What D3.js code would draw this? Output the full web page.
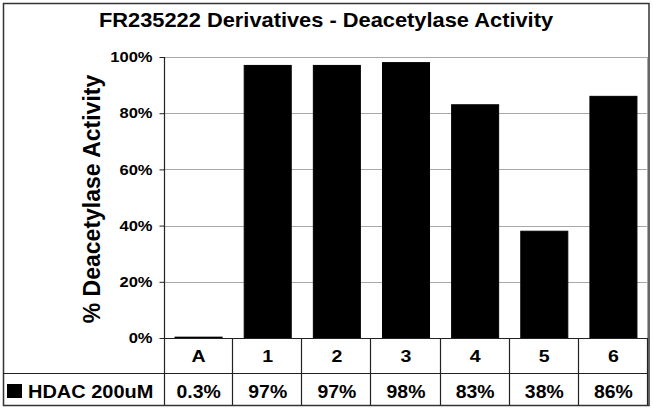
<!DOCTYPE html>
<html>
<head>
<meta charset="utf-8">
<script src="https://d3js.org/d3.v7.min.js"></script>
<style>
  body { margin: 0; background: #fff; }
  svg text { font-family: "Liberation Sans", Arial, sans-serif; font-weight: bold; fill: #000; }
</style>
</head>
<body>
<svg width="653" height="410"></svg>
<script>
// data
const categories = ["A", "1", "2", "3", "4", "5", "6"];
const values = [0.3, 97, 97, 98, 83, 38, 86];
const valueLabels = ["0.3%", "97%", "97%", "98%", "83%", "38%", "86%"];
const yTicks = [0, 20, 40, 60, 80, 100];
const seriesName = "HDAC 200uM";
const title = "FR235222 Derivatives - Deacetylase Activity";
const yTitle = "% Deacetylase Activity";

const svg = d3.select("svg");
const plotL = 164, plotR = 648, plotT = 57, plotB = 338;
const row1 = 373, row2 = 405;

const y = d3.scaleLinear().domain([0, 100]).range([plotB, plotT]);
const xCol = d3.scaleBand().domain(categories).range([plotL, plotR]).padding(0);
const x = d3.scaleBand().domain(categories).range([plotL, plotR]).paddingInner(0.32).paddingOuter(0.16);

// outer frame
svg.append("rect")
  .attr("x", 3.5).attr("y", 3.5).attr("width", 645.5).attr("height", 402)
  .attr("fill", "#fff").attr("stroke", "#333").attr("stroke-width", 1.5);

// title
svg.append("text")
  .attr("transform", "translate(326,27) scale(1.12,1)")
  .attr("text-anchor", "middle")
  .attr("font-size", "19.5px")
  .text(title);

// gridlines
svg.append("g").selectAll("line")
  .data(yTicks.filter(d => d > 0))
  .enter().append("line")
  .attr("x1", plotL).attr("x2", plotR)
  .attr("y1", d => Math.round(y(d)) + 0.5).attr("y2", d => Math.round(y(d)) + 0.5)
  .attr("stroke", "#a8a8a8").attr("stroke-width", 1);

// plot right border
svg.append("line")
  .attr("x1", plotR - 0.5).attr("x2", plotR - 0.5).attr("y1", plotT).attr("y2", plotB)
  .attr("stroke", "#a8a8a8");

// bars
svg.append("g").selectAll("rect")
  .data(values)
  .enter().append("rect")
  .attr("x", (d, i) => x(categories[i]))
  .attr("width", x.bandwidth())
  .attr("y", d => y(d))
  .attr("height", d => plotB - y(d))
  .attr("fill", "#000").attr("stroke", "#000").attr("stroke-width", 1);

// y axis
const yAxis = svg.append("g")
  .attr("transform", `translate(${plotL + 0.5},0)`)
  .call(d3.axisLeft(y).tickValues(yTicks).tickSize(5).tickPadding(5.5).tickFormat(d => d + "%"));
yAxis.select(".domain").remove();
yAxis.selectAll(".tick line").attr("stroke", "#222");
yAxis.selectAll(".tick text")
  .attr("font-size", "14.5px")
  .attr("font-family", null)
  .attr("transform", "scale(1.14,1)");

// y axis title
svg.append("text")
  .attr("transform", "translate(100,199) rotate(-90)")
  .attr("text-anchor", "middle")
  .attr("font-size", "23px")
  .text(yTitle);

// table lines
const lines = svg.append("g").attr("stroke", "#222").attr("stroke-width", 1.2);
lines.append("line").attr("x1", plotL).attr("x2", plotR).attr("y1", plotB + 0.5).attr("y2", plotB + 0.5);
lines.append("line").attr("x1", 3).attr("x2", plotR).attr("y1", row1 + 0.5).attr("y2", row1 + 0.5);
lines.append("line").attr("x1", plotL + 0.5).attr("x2", plotL + 0.5).attr("y1", plotT).attr("y2", row2);
lines.selectAll(".col")
  .data(categories)
  .enter().append("line")
  .attr("x1", d => Math.round(xCol(d) + xCol.bandwidth()) - 0.5)
  .attr("x2", d => Math.round(xCol(d) + xCol.bandwidth()) - 0.5)
  .attr("y1", plotB).attr("y2", row2);

// category row
svg.append("g").selectAll("text")
  .data(categories)
  .enter().append("text")
  .attr("transform", d => `translate(${xCol(d) + xCol.bandwidth() / 2},362) scale(1.15,1)`)
  .attr("text-anchor", "middle")
  .attr("font-size", "17px")
  .text(d => d);

// value row
svg.append("g").selectAll("text")
  .data(valueLabels)
  .enter().append("text")
  .attr("transform", (d, i) => `translate(${xCol(categories[i]) + xCol.bandwidth() / 2},398) scale(1.05,1)`)
  .attr("text-anchor", "middle")
  .attr("font-size", "18.5px")
  .text(d => d);

// legend key
svg.append("rect")
  .attr("x", 7).attr("y", 384).attr("width", 15).attr("height", 14)
  .attr("fill", "#000");
svg.append("text")
  .attr("transform", "translate(28,398) scale(1.08,1)")
  .attr("font-size", "18.5px")
  .text(seriesName);
</script>
</body>
</html>
